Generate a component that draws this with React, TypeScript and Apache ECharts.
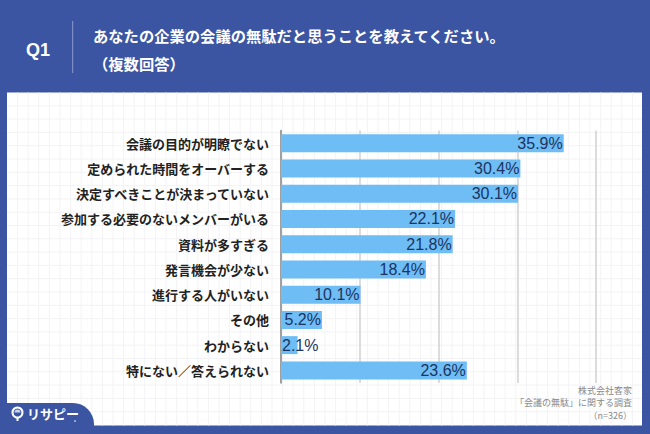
import React, { useEffect, useRef } from "react";
import * as echarts from "echarts";

const categories = [
  "会議の目的が明瞭でない",
  "定められた時間をオーバーする",
  "決定すべきことが決まっていない",
  "参加する必要のないメンバーがいる",
  "資料が多すぎる",
  "発言機会が少ない",
  "進行する人がいない",
  "その他",
  "わからない",
  "特にない／答えられない",
];
const values = [35.9, 30.4, 30.1, 22.1, 21.8, 18.4, 10.1, 5.2, 2.1, 23.6];
const titleLines = ["あなたの企業の会議の無駄だと思うことを教えてください。", "（複数回答）"];
const footLines = ["株式会社客家", "「会議の無駄」に関する調査", "（n=326）"];

const BLUE = "#3b55a2";
const JP = '"Noto Sans CJK JP", "Noto Sans", sans-serif';

export default function App() {
  const ref = useRef<HTMLDivElement>(null);
  useEffect(() => {
    if (!ref.current) return;
    const chart = echarts.init(ref.current, undefined, { renderer: "svg" });

    const graphics: any[] = [];
    graphics.push({
      type: "rect",
      z: 0,
      shape: { x: 7, y: 92.5, width: 635, height: 333 },
      style: { fill: "#ffffff" },
    });
    for (let x = 17.6; x < 642; x += 10.6) {
      graphics.push({
        type: "line",
        z: 0,
        shape: { x1: x, y1: 92.5, x2: x, y2: 425.5 },
        style: { stroke: "#f3f3f5", lineWidth: 1 },
      });
    }
    for (let y = 105.8; y < 425; y += 13.3) {
      graphics.push({
        type: "line",
        z: 0,
        shape: { x1: 7, y1: y, x2: 642, y2: y },
        style: { stroke: "#f3f3f5", lineWidth: 1 },
      });
    }
    graphics.push({
      type: "rect",
      z: 6,
      shape: { x: 0, y: 403, width: 94, height: 40, r: [0, 21, 0, 0] },
      style: { fill: BLUE },
    });
    graphics.push({
      type: "circle",
      z: 7,
      shape: { cx: 17.5, cy: 412.5, r: 5 },
      style: { fill: "none", stroke: "#ffffff", lineWidth: 2 },
    });
    graphics.push({
      type: "sector",
      z: 7,
      shape: { cx: 17.5, cy: 412.5, r: 3, startAngle: -Math.PI, endAngle: 0 },
      style: { fill: "#c9d2ea" },
    });
    graphics.push({
      type: "line",
      z: 7,
      shape: { x1: 17.5, y1: 417.5, x2: 17.5, y2: 421 },
      style: { stroke: "#ffffff", lineWidth: 2 },
    });
    graphics.push({
      type: "text",
      z: 7,
      style: {
        text: "リサピー",
        x: 27,
        y: 413,
        fill: "#ffffff",
        font: `bold 13px ${JP}`,
        verticalAlign: "middle",
      },
    });
    graphics.push({
      type: "circle",
      z: 7,
      shape: { cx: 75, cy: 421, r: 0.8 },
      style: { fill: "#c9d2ea" },
    });
    graphics.push({
      type: "text",
      z: 7,
      style: {
        text: "Q1",
        x: 26,
        y: 50,
        fill: "#ffffff",
        font: 'bold 18px "Liberation Sans", Arial, sans-serif',
        verticalAlign: "middle",
      },
    });
    graphics.push({
      type: "line",
      z: 7,
      shape: { x1: 72.7, y1: 21, x2: 72.7, y2: 73 },
      style: { stroke: "#8b9bcc", lineWidth: 1 },
    });
    titleLines.forEach((t, i) => {
      graphics.push({
        type: "text",
        z: 7,
        style: {
          text: t,
          x: 93,
          y: 35 + i * 28,
          fill: "#ffffff",
          font: `bold 15.3px ${JP}`,
          verticalAlign: "middle",
        },
      });
    });
    footLines.forEach((t, i) => {
      graphics.push({
        type: "text",
        z: 7,
        style: {
          text: t,
          x: 632,
          y: 390 + i * 12.5,
          fill: "#8a8a8a",
          font: `9px ${JP}`,
          align: "right",
          verticalAlign: "middle",
          lineHeight: 11,
        },
      });
    });

    chart.setOption({
      animation: false,
      backgroundColor: BLUE,
      graphic: { elements: graphics },
      grid: { left: 281, right: 54, top: 130.5, bottom: 51, containLabel: false },
      xAxis: {
        type: "value",
        min: 0,
        max: 40,
        interval: 10,
        z: 3,
        axisLabel: { show: false },
        axisLine: { show: false },
        axisTick: { show: false },
        splitLine: { show: true, lineStyle: { color: "#d0d0d0", width: 1.5 } },
      },
      yAxis: {
        type: "category",
        inverse: true,
        data: categories,
        z: 3,
        axisTick: { show: false },
        axisLine: { show: true, lineStyle: { color: "#8c8c8c", width: 1.5 } },
        axisLabel: {
          margin: 12,
          color: "#222222",
          fontSize: 13,
          fontWeight: "bold",
          fontFamily: JP,
        },
      },
      series: [
        {
          type: "bar",
          z: 4,
          barWidth: 18,
          itemStyle: { color: "#6fbdf5" },
          data: values.map((v) =>
            v < 4 ? { value: v, label: { position: "insideLeft", distance: 1 } } : v
          ),
          label: {
            show: true,
            position: "insideRight",
            distance: 1,
            color: "#1b3461",
            fontSize: 16,
            fontFamily: '"Liberation Sans", Arial, sans-serif',
            formatter: (p: any) => Number(p.value).toFixed(1) + "%",
          },
        },
      ],
    });
    return () => chart.dispose();
  }, []);
  return (
    <div
      ref={ref}
      style={{ position: "fixed", left: 0, top: 0, width: 650, height: 434 }}
    />
  );
}
